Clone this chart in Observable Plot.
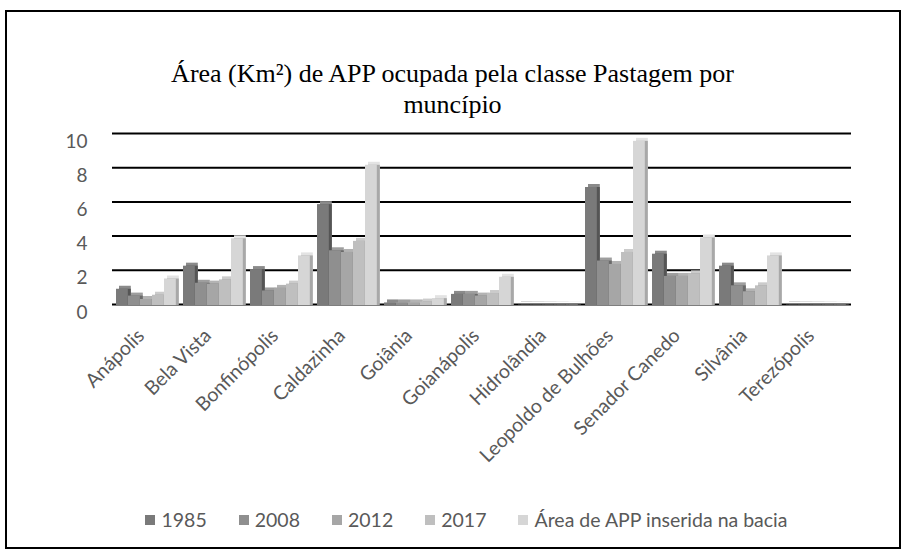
<!DOCTYPE html>
<html>
<head>
<meta charset="utf-8">
<script src="https://cdn.jsdelivr.net/npm/d3@7"></script>
<script src="https://cdn.jsdelivr.net/npm/@observablehq/plot@0.6"></script>
<style>
  html, body { margin: 0; padding: 0; background: #fff; }
  #frame { position: absolute; left: 5px; top: 10px; width: 892px; height: 535px; border: 2px solid #000; }
  #title { position: absolute; left: 0; top: 58px; width: 905px; text-align: center; font-family: "Liberation Serif", "Times New Roman", serif; font-size: 26px; line-height: 31px; color: #000; }
  #chart { position: absolute; left: 0; top: 120px; }
  #legend { position: absolute; left: 14px; top: 508px; width: 905px; display: flex; justify-content: center; gap: 32px; font-family: Lato, "Open Sans", sans-serif; font-size: 19.5px; color: #595959; }
  #legend .item { display: flex; align-items: center; gap: 6px; }
  #legend .sw { width: 10px; height: 10px; display: inline-block; }
</style>
</head>
<body>
<div id="frame"></div>
<div id="title">Área (Km²) de APP ocupada pela classe Pastagem por<br>muncípio</div>
<div id="chart"></div>
<div id="legend"></div>
<script>
const cities = ["Anápolis", "Bela Vista", "Bonfinópolis", "Caldazinha", "Goiânia", "Goianápolis", "Hidrolândia", "Leopoldo de Bulhões", "Senador Canedo", "Silvânia", "Terezópolis"];
const seriesNames = ["1985", "2008", "2012", "2017", "Área de APP inserida na bacia"];
const v1985 = [0.95, 2.3, 2.1, 5.9, 0.15, 0.65, 0.02, 6.9, 3.0, 2.3, 0.02];
const v2008 = [0.55, 1.3, 0.85, 3.2, 0.15, 0.65, 0.02, 2.6, 1.7, 1.15, 0.02];
const v2012 = [0.35, 1.25, 1.0, 3.1, 0.15, 0.55, 0.02, 2.4, 1.7, 0.8, 0.02];
const v2017 = [0.6, 1.5, 1.25, 3.75, 0.2, 0.7, 0.02, 3.1, 1.85, 1.15, 0.02];
const vArea = [1.55, 3.9, 2.9, 8.2, 0.4, 1.65, 0.02, 9.6, 3.95, 2.9, 0.02];
const yTicks = [0, 2, 4, 6, 8, 10];
const frontColors = ["#7a7a7a", "#8f8f8f", "#a6a6a6", "#bfbfbf", "#d6d6d6"];
const sideColors = ["#555555", "#6a6a6a", "#808080", "#9a9a9a", "#a8a8a8"];
const topColors = ["#8a8a8a", "#9e9e9e", "#b3b3b3", "#cbcbcb", "#e3e3e3"];

const values = [v1985, v2008, v2012, v2017, vArea];
const rows = values.map((arr, i) => cities.map((c, j) => ({city: c, series: seriesNames[i], value: arr[j]})));

const barW = 12;
const lead = 3;
const band = (905 - 112 - 54) / cities.length;
const marks = [
  Plot.ruleY(yTicks, {stroke: "#000", strokeWidth: 2})
];
rows.forEach((data, i) => {
  const il = lead + i * barW;
  const ir = band - il - barW;
  marks.push(Plot.barY(data, {x: "city", y: "value", fill: topColors[i], insetLeft: il, insetRight: ir, dx: 3, dy: -2}));
  marks.push(Plot.barY(data, {x: "city", y: "value", fill: sideColors[i], insetLeft: il, insetRight: ir, dx: 3, dy: 1}));
  marks.push(Plot.barY(data, {x: "city", y: "value", fill: frontColors[i], insetLeft: il, insetRight: ir, dy: 1}));
});
marks.push(Plot.axisY({ticks: yTicks, tickSize: 0, tickPadding: 25, dy: 8, fontSize: 19, fill: "#595959", fontFamily: "Lato, 'Open Sans', sans-serif", label: null}));
marks.push(Plot.axisX({tickSize: 0, tickPadding: 28, dx: -6, tickRotate: -45, fontSize: 19.5, fill: "#595959", fontFamily: "Lato, 'Open Sans', sans-serif", label: null}));

const chart = Plot.plot({
  width: 905,
  height: 380,
  marginLeft: 112,
  marginRight: 54,
  marginTop: 13,
  marginBottom: 196,
  x: {domain: cities, padding: 0},
  y: {domain: [0, 10]},
  style: {background: "transparent", overflow: "visible"},
  marks
});
document.getElementById("chart").appendChild(chart);

const legend = document.getElementById("legend");
seriesNames.forEach((name, i) => {
  const item = document.createElement("span");
  item.className = "item";
  const sw = document.createElement("span");
  sw.className = "sw";
  sw.style.background = frontColors[i];
  const t = document.createElement("span");
  t.textContent = name;
  item.appendChild(sw);
  item.appendChild(t);
  legend.appendChild(item);
});
</script>
</body>
</html>
